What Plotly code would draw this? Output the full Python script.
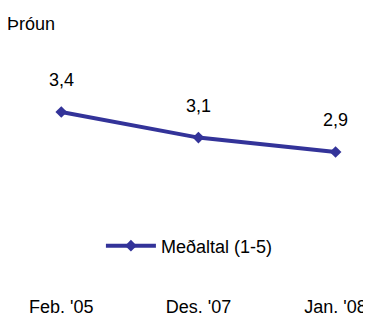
import plotly.graph_objects as go

categories = ["Feb. '05", "Des. '07", "Jan. '08"]
values = [3.4, 3.08, 2.9]
series_name = "Meðaltal (1-5)"
title_text = "Þróun"

labels = [f"{v:.1f}".replace(".", ",") for v in values]
color = "#333399"

fig = go.Figure()
fig.add_trace(go.Scatter(
    x=[0, 1, 2], y=values, mode="lines+markers", name=series_name,
    line=dict(color=color, width=4),
    marker=dict(symbol="diamond", size=9, color=color),
))
for i, (v, t) in enumerate(zip(values, labels)):
    fig.add_annotation(x=i, y=v, text=t, showarrow=False, yshift=32,
                       font=dict(size=18, color="black"))

fig.add_annotation(xref="paper", yref="paper", x=0, y=1, xshift=-22, yshift=40,
                   text=title_text, showarrow=False, xanchor="left", yanchor="middle",
                   font=dict(size=18, color="black"))

fig.update_layout(
    width=371, height=317,
    margin=dict(l=18.6, r=15.5, t=56, b=31),
    paper_bgcolor="white", plot_bgcolor="white",
    font=dict(family="Liberation Sans, Arial, sans-serif", size=18, color="black"),
    showlegend=True,
    legend=dict(orientation="h", x=0.22, y=0.209, xanchor="left", yanchor="middle",
                bgcolor="rgba(0,0,0,0)", itemwidth=50, font=dict(size=18)),
    xaxis=dict(range=[-0.25, 2.2], tickmode="array", tickvals=[0, 1, 2], ticktext=categories,
               showgrid=False, zeroline=False, showline=False, ticks="",
               automargin=False, fixedrange=True),
    yaxis=dict(range=[1.125, 4.0], visible=False, showgrid=False, zeroline=False,
               automargin=False),
)

fig.write_html("out.html")
